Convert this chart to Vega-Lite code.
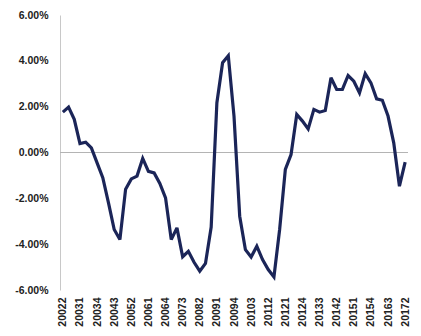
{
  "$schema": "https://vega.github.io/schema/vega-lite/v6.json",
  "autosize": "none",
  "width": 348,
  "height": 275,
  "padding": {"left": 60, "top": 15, "right": 13, "bottom": 46},
  "background": "white",
  "config": {"view": {"stroke": null}, "font": "Liberation Sans"},
  "data": {"values": [
    {"period": "20022", "value": 0.0176},
    {"period": "20023", "value": 0.0198},
    {"period": "20024", "value": 0.0145},
    {"period": "20031", "value": 0.0039},
    {"period": "20032", "value": 0.0045},
    {"period": "20033", "value": 0.0020},
    {"period": "20034", "value": -0.0045},
    {"period": "20041", "value": -0.0110},
    {"period": "20042", "value": -0.0220},
    {"period": "20043", "value": -0.0336},
    {"period": "20044", "value": -0.0380},
    {"period": "20051", "value": -0.0160},
    {"period": "20052", "value": -0.0115},
    {"period": "20053", "value": -0.0103},
    {"period": "20054", "value": -0.0026},
    {"period": "20061", "value": -0.0082},
    {"period": "20062", "value": -0.0089},
    {"period": "20063", "value": -0.0135},
    {"period": "20064", "value": -0.0198},
    {"period": "20071", "value": -0.0380},
    {"period": "20072", "value": -0.0329},
    {"period": "20073", "value": -0.0455},
    {"period": "20074", "value": -0.0431},
    {"period": "20081", "value": -0.0479},
    {"period": "20082", "value": -0.0518},
    {"period": "20083", "value": -0.0484},
    {"period": "20084", "value": -0.0325},
    {"period": "20091", "value": 0.0217},
    {"period": "20092", "value": 0.0392},
    {"period": "20093", "value": 0.0422},
    {"period": "20094", "value": 0.0159},
    {"period": "20101", "value": -0.0278},
    {"period": "20102", "value": -0.0424},
    {"period": "20103", "value": -0.0456},
    {"period": "20104", "value": -0.0409},
    {"period": "20111", "value": -0.0467},
    {"period": "20112", "value": -0.0511},
    {"period": "20113", "value": -0.0543},
    {"period": "20114", "value": -0.0336},
    {"period": "20121", "value": -0.0074},
    {"period": "20122", "value": -0.0009},
    {"period": "20123", "value": 0.0166},
    {"period": "20124", "value": 0.0137},
    {"period": "20131", "value": 0.0103},
    {"period": "20132", "value": 0.0188},
    {"period": "20133", "value": 0.0176},
    {"period": "20134", "value": 0.0183},
    {"period": "20141", "value": 0.0326},
    {"period": "20142", "value": 0.0275},
    {"period": "20143", "value": 0.0275},
    {"period": "20144", "value": 0.0336},
    {"period": "20151", "value": 0.0311},
    {"period": "20152", "value": 0.0260},
    {"period": "20153", "value": 0.0344},
    {"period": "20154", "value": 0.0304},
    {"period": "20161", "value": 0.0234},
    {"period": "20162", "value": 0.0228},
    {"period": "20163", "value": 0.0159},
    {"period": "20164", "value": 0.0042},
    {"period": "20171", "value": -0.0147},
    {"period": "20172", "value": -0.0042}
  ]},
  "layer": [
    {
      "mark": {"type": "rule", "color": "#b4b4b4", "strokeWidth": 1},
      "encoding": {"y": {"datum": 0, "type": "quantitative"}}
    },
    {
      "mark": {"type": "line", "color": "#1b2558", "strokeWidth": 3.2, "strokeJoin": "miter", "strokeMiterLimit": 3},
      "encoding": {
        "x": {
          "field": "period", "type": "ordinal", "sort": null,
          "scale": {"type": "point", "padding": 0.5},
          "axis": {
            "title": null, "domain": false, "ticks": false, "labelAngle": -90,
            "labelPadding": 7, "labelFontSize": 10.5, "labelFontWeight": "bold", "labelColor": "#222222",
            "values": ["20022","20031","20034","20043","20052","20061","20064","20073","20082","20091","20094","20103","20112","20121","20124","20133","20142","20151","20154","20163","20172"]
          }
        },
        "y": {
          "field": "value", "type": "quantitative",
          "scale": {"domain": [-0.06, 0.06], "nice": false, "zero": false},
          "axis": {
            "title": null, "values": [-0.06, -0.04, -0.02, 0, 0.02, 0.04, 0.06],
            "labelExpr": "replace(format(datum.value, '.2%'), '\u2212', '-')",
            "grid": false, "ticks": false, "domainColor": "#c8c8c8", "domainWidth": 1,
            "labelPadding": 12, "labelFontSize": 10.5, "labelFontWeight": "bold", "labelColor": "#222222"
          }
        }
      }
    }
  ]
}
